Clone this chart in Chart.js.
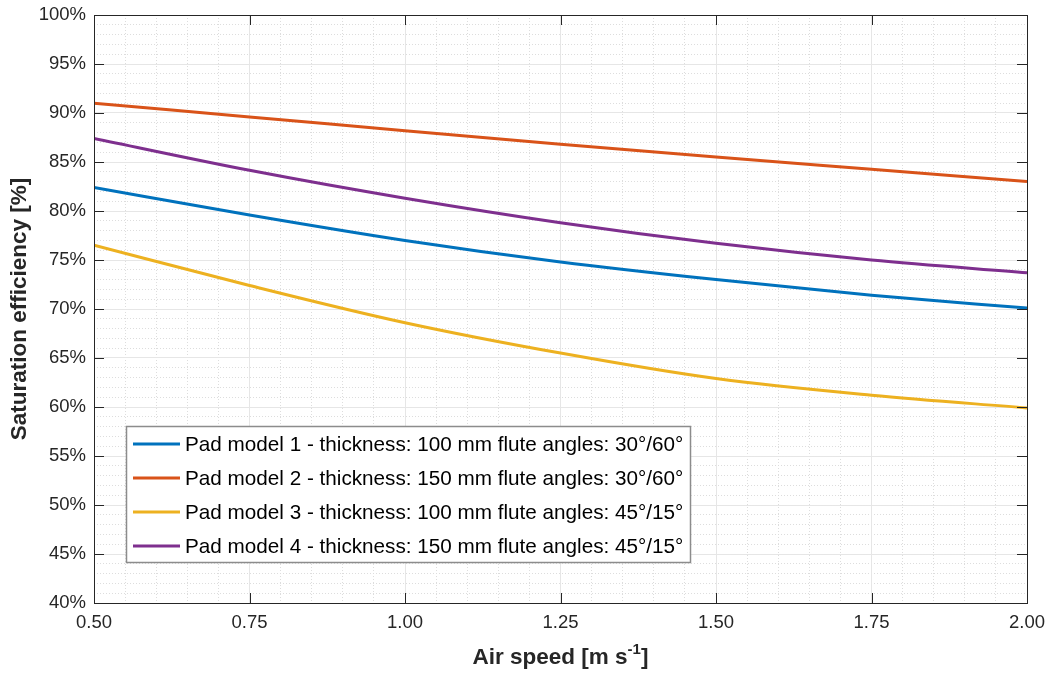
<!DOCTYPE html>
<html>
<head>
<meta charset="utf-8">
<script src="https://cdn.jsdelivr.net/npm/chart.js@4.4.0/dist/chart.umd.min.js"></script>
<style>
  html, body { margin: 0; padding: 0; background: #fff; }
  #wrap { width: 1052px; height: 673px; position: relative; }
</style>
</head>
<body>
<div id="wrap"><canvas id="chart"></canvas></div>
<script>
// air speed [m/s]
const airSpeed = [0.5, 0.75, 1.0, 1.25, 1.5, 1.75, 2.0];
// saturation efficiency [%] per pad model
const pad1 = [82.4, 79.6, 77.0, 74.8, 73.0, 71.4, 70.1];
const pad2 = [91.0, 89.6, 88.2, 86.8, 85.5, 84.25, 83.0];
const pad3 = [76.5, 72.4, 68.6, 65.5, 62.9, 61.2, 59.9];
const pad4 = [87.4, 84.15, 81.3, 78.8, 76.7, 75.0, 73.7];
const padLabels = [
    'Pad model 1 - thickness: 100 mm flute angles: 30°/60°',
    'Pad model 2 - thickness: 150 mm flute angles: 30°/60°',
    'Pad model 3 - thickness: 100 mm flute angles: 45°/15°',
    'Pad model 4 - thickness: 150 mm flute angles: 45°/15°'
];
const padColors = ['#0072BD', '#D95319', '#EDB120', '#7E2F8E'];
// major ticks
const xTicks = [0.5, 0.75, 1.0, 1.25, 1.5, 1.75, 2.0];
const yTicks = [40, 45, 50, 55, 60, 65, 70, 75, 80, 85, 90, 95, 100];

const FONT = '"Liberation Sans", Arial, Helvetica, sans-serif';
const AXIS_COLOR = '#262626';
const MAJOR_GRID = '#e6e6e6';
const MINOR_GRID = '#dddddd';

const onStep = (v, step) => Math.abs(v / step - Math.round(v / step)) < 1e-6;

// box around the axes with inward ticks on every side
const frame = {
    id: 'frame',
    afterDatasetsDraw(chart) {
        const { ctx, chartArea: a, scales } = chart;
        const len = 10;
        ctx.save();
        ctx.strokeStyle = AXIS_COLOR;
        ctx.lineWidth = 1;
        ctx.beginPath();
        scales.x.ticks.forEach(t => {
            const px = Math.round(scales.x.getPixelForValue(t.value)) + 0.5;
            ctx.moveTo(px, a.bottom); ctx.lineTo(px, a.bottom - len);
            ctx.moveTo(px, a.top); ctx.lineTo(px, a.top + len);
        });
        scales.y.ticks.forEach(t => {
            const py = Math.round(scales.y.getPixelForValue(t.value)) + 0.5;
            ctx.moveTo(a.left, py); ctx.lineTo(a.left + len, py);
            ctx.moveTo(a.right, py); ctx.lineTo(a.right - len, py);
        });
        ctx.stroke();
        ctx.strokeRect(Math.round(a.left) + 0.5, Math.round(a.top) + 0.5,
            Math.round(a.right - a.left), Math.round(a.bottom - a.top));
        ctx.restore();
    }
};

// legend box in the lower left corner of the plot
const boxLegend = {
    id: 'boxLegend',
    afterDraw(chart) {
        const { ctx } = chart;
        const x0 = 126, y0 = 426, w = 564, rowH = 34;
        const sets = chart.data.datasets;
        ctx.save();
        ctx.fillStyle = '#fff';
        ctx.fillRect(x0, y0, w, rowH * sets.length);
        ctx.strokeStyle = '#8c8c8c';
        ctx.lineWidth = 1.5;
        ctx.strokeRect(x0 + 0.5, y0 + 0.5, w, rowH * sets.length);
        ctx.font = '20.7px ' + FONT;
        ctx.textBaseline = 'middle';
        ctx.fillStyle = '#000';
        sets.forEach((ds, i) => {
            const cy = y0 + rowH * i + rowH / 2 + 1;
            ctx.strokeStyle = ds.borderColor;
            ctx.lineWidth = 3;
            ctx.beginPath();
            ctx.moveTo(x0 + 7, cy);
            ctx.lineTo(x0 + 54, cy);
            ctx.stroke();
            ctx.fillText(ds.label, x0 + 59, cy + 1);
        });
        ctx.restore();
    }
};

// x axis title with a superscript exponent
const xTitle = {
    id: 'xTitle',
    afterDraw(chart) {
        const { ctx, chartArea: a } = chart;
        const base = 'Air speed [m s', sup = '-1', tail = ']';
        const big = 'bold 22.5px ' + FONT, small = 'bold 15px ' + FONT;
        ctx.save();
        ctx.fillStyle = AXIS_COLOR;
        ctx.textBaseline = 'alphabetic';
        ctx.font = big;
        const wBase = ctx.measureText(base).width, wTail = ctx.measureText(tail).width;
        ctx.font = small;
        const wSup = ctx.measureText(sup).width;
        let x = (a.left + a.right) / 2 - (wBase + wSup + wTail) / 2;
        const y = chart.height - 9;
        ctx.font = big;
        ctx.fillText(base, x, y);
        x += wBase;
        ctx.font = small;
        ctx.fillText(sup, x, y - 10);
        x += wSup;
        ctx.font = big;
        ctx.fillText(tail, x, y);
        ctx.restore();
    }
};

const datasets = [pad1, pad2, pad3, pad4].map((vals, i) => ({
    label: padLabels[i],
    data: airSpeed.map((x, j) => ({ x, y: vals[j] })),
    borderColor: padColors[i],
    backgroundColor: padColors[i],
    borderWidth: 3,
    pointRadius: 0,
    fill: false,
    cubicInterpolationMode: 'monotone'
}));

new Chart(document.getElementById('chart'), {
    type: 'line',
    data: { datasets },
    options: {
        responsive: true,
        maintainAspectRatio: false,
        animation: false,
        layout: { padding: { top: 15, right: 25, left: 0, bottom: 0 } },
        plugins: {
            legend: { display: false },
            tooltip: { enabled: false }
        },
        scales: {
            xMinor: {
                type: 'linear', position: 'bottom', min: 0.5, max: 2.0,
                ticks: { display: false, stepSize: 0.05 },
                grid: {
                    drawTicks: false,
                    color: c => onStep(c.tick.value, 0.25) ? 'transparent' : MINOR_GRID
                },
                border: { display: false, dash: [1, 2] },
                afterFit: s => { s.height = 0; s.paddingLeft = 0; s.paddingRight = 0; }
            },
            yMinor: {
                type: 'linear', position: 'left', min: 40, max: 100,
                ticks: { display: false, stepSize: 1 },
                grid: {
                    drawTicks: false,
                    color: c => onStep(c.tick.value, 5) ? 'transparent' : MINOR_GRID
                },
                border: { display: false, dash: [1, 2] },
                afterFit: s => { s.width = 0; s.paddingTop = 0; s.paddingBottom = 0; }
            },
            x: {
                type: 'linear', position: 'bottom', min: 0.5, max: 2.0,
                afterBuildTicks: s => { s.ticks = xTicks.map(value => ({ value })); },
                ticks: {
                    padding: 9, color: AXIS_COLOR, maxRotation: 0,
                    font: { family: FONT, size: 18.5 },
                    callback: v => Number(v).toFixed(2)
                },
                grid: { drawTicks: false, color: MAJOR_GRID },
                border: { display: false },
                afterFit: s => { s.height = 70; s.paddingLeft = 0; s.paddingRight = 0; }
            },
            y: {
                type: 'linear', position: 'left', min: 40, max: 100,
                afterBuildTicks: s => { s.ticks = yTicks.map(value => ({ value })); },
                ticks: {
                    padding: 8, color: AXIS_COLOR,
                    font: { family: FONT, size: 18.5 },
                    callback: v => v + '%'
                },
                grid: { drawTicks: false, color: MAJOR_GRID },
                border: { display: false },
                title: {
                    display: true,
                    text: 'Saturation efficiency [%]',
                    color: AXIS_COLOR,
                    font: { family: FONT, size: 22.5, weight: 'bold' },
                    padding: { top: 6, bottom: 0 }
                },
                afterFit: s => { s.width = 94; s.paddingTop = 0; s.paddingBottom = 0; }
            }
        }
    },
    plugins: [frame, boxLegend, xTitle]
});
</script>
</body>
</html>
